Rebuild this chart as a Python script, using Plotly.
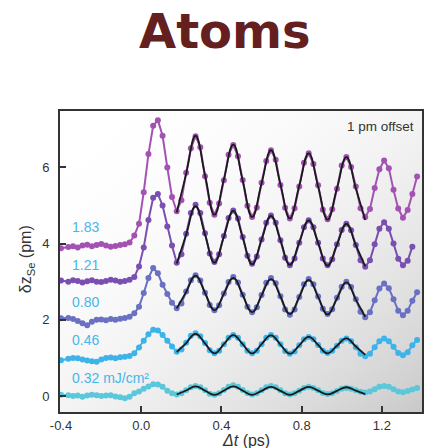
import numpy as np
import plotly.graph_objects as go

# ---------------- data ----------------
time_ps = [
    -0.400, -0.3635, -0.340, -0.3165, -0.293, -0.2695, -0.246, -0.2225, -0.199,
    -0.1755, -0.152, -0.1285, -0.105, -0.0815, -0.058, -0.0345, -0.011,
    0.0125, 0.036, 0.0595, 0.083, 0.1065, 0.130, 0.1535, 0.177,
    0.2005, 0.224, 0.2475, 0.271, 0.2945, 0.318, 0.3415, 0.365,
    0.3885, 0.412, 0.4355, 0.459, 0.4825, 0.506, 0.5295, 0.553,
    0.5765, 0.600, 0.6235, 0.647, 0.6705, 0.694, 0.7175, 0.741,
    0.7645, 0.788, 0.8115, 0.835, 0.8585, 0.882, 0.9055, 0.929,
    0.9525, 0.976, 0.9995, 1.023, 1.0465, 1.070, 1.0935, 1.117,
    1.1405, 1.164, 1.1875, 1.211, 1.2345, 1.258, 1.2815, 1.305,
    1.3285, 1.352, 1.3755,
]

fluence_labels = ["0.32 mJ/cm²", "0.46", "0.80", "1.21", "1.83"]

# displacement incl. 1 pm offset per curve (pm)
dz_183 = [
    3.88, 3.91, 3.93, 3.90, 3.95, 3.97, 3.93, 3.96, 3.99, 3.95, 3.92, 3.94, 3.96, 3.98, 4.03, 4.21, 4.52,
    5.35, 6.35, 7.09, 7.24, 6.83, 6.00, 5.22, 4.85,
    5.14, 5.86, 6.50, 6.82, 6.53, 5.77, 5.07, 4.76,
    5.05, 5.66, 6.33, 6.59, 6.29, 5.67, 4.99, 4.70,
    4.95, 5.60, 6.17, 6.45, 6.20, 5.54, 4.94, 4.66,
    4.93, 5.50, 6.12, 6.37, 6.09, 5.53, 4.89, 4.64,
    4.90, 5.44, 6.05, 6.27, 6.01, 5.50, 4.93, 4.70,
    4.91, 5.46, 5.95, 6.18, 5.98, 5.41, 4.92, 4.68,
    4.88, 5.30, 5.76,
]
dz_121 = [
    3.03, 3.00, 3.04, 3.02, 2.98, 3.01, 3.04, 3.00, 2.99, 3.02, 3.05, 3.03, 3.00, 3.02, 3.05, 3.12, 3.40,
    3.90, 4.62, 5.20, 5.30, 5.00, 4.45, 3.95, 3.50,
    3.72, 4.26, 4.80, 5.02, 4.80, 4.27, 3.74, 3.52,
    3.72, 4.20, 4.67, 4.87, 4.66, 4.17, 3.68, 3.47,
    3.66, 4.11, 4.55, 4.74, 4.55, 4.09, 3.63, 3.43,
    3.61, 4.02, 4.43, 4.61, 4.43, 4.02, 3.61, 3.43,
    3.59, 3.98, 4.36, 4.52, 4.35, 3.96, 3.56, 3.39,
    3.56, 3.98, 4.39, 4.56, 4.39, 4.00, 3.60, 3.43,
    3.55, 3.92, None,
]
dz_080 = [
    2.04, 2.05, 2.02, 1.97, 1.91, 1.86, 1.95, 2.00, 2.01, 1.99, 2.02, 2.00, 2.03, 2.05, 2.08, 2.17, 2.34,
    2.70, 3.10, 3.36, 3.22, 2.92, 2.68, 2.45, 2.30,
    2.43, 2.74, 3.04, 3.17, 3.03, 2.71, 2.39, 2.25,
    2.38, 2.69, 2.99, 3.12, 2.98, 2.66, 2.34, 2.20,
    2.33, 2.65, 2.97, 3.10, 2.96, 2.62, 2.27, 2.13,
    2.27, 2.60, 2.93, 3.07, 2.93, 2.61, 2.29, 2.15,
    2.28, 2.58, 2.87, 3.00, 2.86, 2.54, 2.21, 2.07,
    2.20, 2.51, 2.82, 2.95, 2.83, 2.54, 2.24, 2.12,
    2.24, 2.50, 2.72,
]
dz_046 = [
    0.94, 0.98, 1.00, 0.99, 0.96, 0.93, 0.91, 0.90, 0.96, 1.00, 1.01, 0.99, 1.02, 1.03, 1.05, 1.12, 1.27,
    1.45, 1.62, 1.74, 1.72, 1.60, 1.45, 1.30, 1.16,
    1.22, 1.40, 1.58, 1.65, 1.57, 1.39, 1.20, 1.12,
    1.19, 1.36, 1.53, 1.60, 1.53, 1.36, 1.19, 1.12,
    1.19, 1.36, 1.53, 1.60, 1.53, 1.36, 1.18, 1.11,
    1.17, 1.33, 1.49, 1.55, 1.49, 1.34, 1.19, 1.13,
    1.19, 1.32, 1.45, 1.51, 1.44, 1.28, 1.11, 1.04,
    1.11, 1.28, 1.44, 1.51, 1.44, 1.29, 1.13, 1.07,
    1.15, 1.33, 1.47,
]
dz_032 = [
    0.03, 0.02, 0.00, 0.01, -0.02, 0.01, 0.03, 0.02, 0.00, 0.01, 0.02, -0.01, -0.03, -0.06, -0.02, 0.07, 0.12,
    0.19, 0.25, 0.31, 0.30, 0.24, 0.14, 0.07, 0.04,
    0.07, 0.15, 0.23, 0.26, 0.23, 0.15, 0.06, 0.03,
    0.07, 0.16, 0.24, 0.28, 0.24, 0.16, 0.08, 0.04,
    0.07, 0.15, 0.23, 0.26, 0.23, 0.15, 0.07, 0.04,
    0.07, 0.14, 0.21, 0.24, 0.21, 0.15, 0.08, 0.05,
    0.07, 0.13, 0.19, 0.21, 0.19, 0.15, 0.11, 0.09,
    0.12, 0.18, 0.24, 0.26, 0.24, 0.18, 0.12, 0.10,
    0.13, 0.17, 0.21,
]

# damped-cosine fits (black lines)
fit_time_ps = [0.177, 0.224, 0.271, 0.318, 0.365, 0.412, 0.459, 0.506, 0.553, 0.600, 0.647,
               0.694, 0.741, 0.788, 0.835, 0.882, 0.929, 0.976, 1.023, 1.070, 1.117]
fit_183 = [4.82, 5.83, 6.83, 5.80, 4.76, 5.68, 6.60, 5.65, 4.70, 5.58, 6.45, 5.56, 4.66, 5.52, 6.37, 5.50, 4.63, 5.45, 6.27, 5.45, 4.62]
fit_121 = [3.48, 4.23, 4.98, 4.24, 3.50, 4.18, 4.86, 4.16, 3.46, 4.10, 4.73, 4.09, 3.44, 4.03, 4.61, 4.02, 3.42, 3.97, 4.52, 3.96, 3.40]
fit_080 = [2.30, 2.73, 3.16, 2.71, 2.25, 2.68, 3.10, 2.65, 2.20, 2.64, 3.07, 2.61, 2.15, 2.60, 3.05, 2.60, 2.14, 2.56, 2.98, 2.53, 2.08]
fit_046 = [1.15, 1.39, 1.63, 1.38, 1.12, 1.36, 1.60, 1.36, 1.12, 1.36, 1.59, 1.35, 1.11, 1.33, 1.55, 1.34, 1.12, 1.32, 1.51, 1.30, 1.08]
fit_032 = [0.04, 0.145, 0.25, 0.14, 0.03, 0.14, 0.25, 0.14, 0.03, 0.135, 0.24, 0.135, 0.03, 0.135, 0.24, 0.14, 0.04, 0.135, 0.23, 0.14, 0.05]

label_y = [0.46, 1.47, 2.47, 3.43, 4.43]

x_ticks = [-0.4, 0.0, 0.4, 0.8, 1.2]
y_ticks = [0, 2, 4, 6]

# ---------------- styling ----------------
series = [dz_032, dz_046, dz_080, dz_121, dz_183]
fits = [fit_032, fit_046, fit_080, fit_121, fit_183]
colors = ["#5AC8DA", "#3DB4E9", "#6A70C2", "#7A4FB2", "#A352B3"]
label_color = "#46B6EA"

XR = [-0.405, 1.40]
YR = [-0.42, 7.48]

fig = go.Figure()

# gradient plot background
gx = np.linspace(XR[0], XR[1], 40)
gy = np.linspace(YR[0], YR[1], 40)
xn = (gx - XR[0]) / (XR[1] - XR[0])
yn = (YR[1] - gy) / (YR[1] - YR[0])
gz = ((xn[None, :] + yn[:, None]) / 2.0) ** 2.2
fig.add_trace(go.Heatmap(x=gx, y=gy, z=gz, zmin=0, zmax=1,
                         colorscale=[[0, "#ffffff"], [1, "#c9c9c9"]],
                         showscale=False, zsmooth="best", hoverinfo="skip"))

for vals, col in zip(series, colors):
    fig.add_trace(go.Scatter(x=time_ps, y=vals, mode="lines+markers",
                             line=dict(color=col, width=2),
                             marker=dict(color=col, size=6),
                             showlegend=False))

for fv in fits:
    fig.add_trace(go.Scatter(x=fit_time_ps, y=fv, mode="lines",
                             line=dict(color="#1a1a1a", width=1.8, shape="spline", smoothing=1.3),
                             showlegend=False))

for lab, ly in zip(fluence_labels, label_y):
    fig.add_annotation(x=-0.357, y=ly, xref="x", yref="y", text=lab, showarrow=False,
                       xanchor="left", yanchor="middle",
                       font=dict(family="Liberation Sans, Arial", size=14, color=label_color))

fig.add_annotation(x=1.37, y=7.07, xref="x", yref="y", text="1 pm offset", showarrow=False,
                   xanchor="right", yanchor="middle",
                   font=dict(family="Liberation Sans, Arial", size=13.5, color="#333333"))

# title
fig.add_annotation(x=(226 - 60) / 364, y=(412 - 31) / 301, xref="paper", yref="paper",
                   text="<b>Atoms</b>", showarrow=False, xanchor="center", yanchor="middle",
                   font=dict(family="DejaVu Sans", size=48, color="#63201F"))

# axis titles
fig.add_annotation(x=(247 - 60) / 364, y=(412 - 440) / 301, xref="paper", yref="paper",
                   text="<i>Δt</i> (ps)", showarrow=False, xanchor="center", yanchor="middle",
                   font=dict(family="Liberation Sans, Arial", size=16, color="#333333"))
fig.add_annotation(x=(26 - 60) / 364, y=(412 - 259) / 301, xref="paper", yref="paper",
                   text="δz<sub>Se</sub> (pm)", showarrow=False, textangle=-90,
                   xanchor="center", yanchor="middle",
                   font=dict(family="Liberation Sans, Arial", size=16, color="#333333"))

axis_common = dict(showgrid=False, zeroline=False, ticks="inside", ticklen=6, tickwidth=1.5,
                   tickcolor="#333333", showline=True, linecolor="#333333", linewidth=2,
                   mirror=True, tickfont=dict(family="Liberation Sans, Arial", size=13, color="#333333"))

fig.update_xaxes(range=XR, tickvals=x_ticks, ticktext=[f"{v:.1f}" for v in x_ticks], **axis_common)
fig.update_yaxes(range=YR, tickvals=y_ticks, ticktext=[str(v) for v in y_ticks],
                 ticklabelstandoff=6, **axis_common)

fig.update_layout(width=436, height=448, margin=dict(l=60, r=12, t=111, b=36),
                  paper_bgcolor="white", plot_bgcolor="white", showlegend=False)

fig.write_html("out.html")
